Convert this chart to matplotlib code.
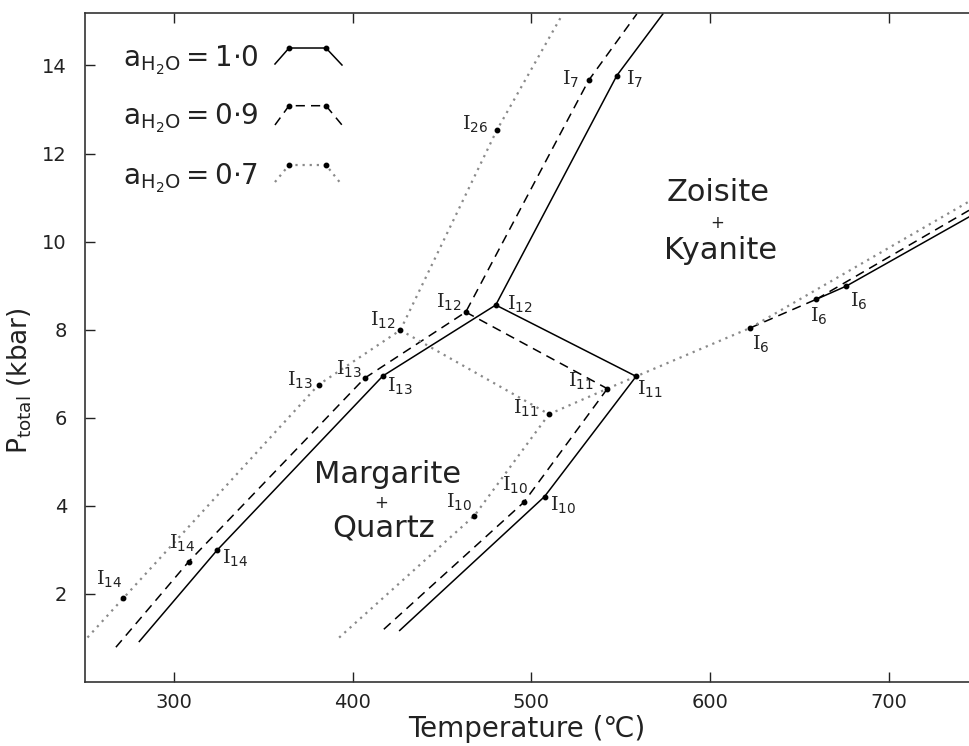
import matplotlib
matplotlib.use("Agg")
import matplotlib.pyplot as plt

plt.rcParams['font.family'] = ['DejaVu Sans']
plt.rcParams['mathtext.fontset'] = 'custom'
plt.rcParams['mathtext.rm'] = 'DejaVu Serif'
plt.rcParams['mathtext.sf'] = 'DejaVu Sans'
plt.rcParams['mathtext.it'] = 'DejaVu Sans:italic'

# ---------------- data (T in degC, P in kbar) ----------------
# a_H2O = 1.0 (solid)
a10_main_T = [280.4, 323.9, 416.8, 480.0, 547.8, 573.6]
a10_main_P = [0.92, 2.99, 6.95, 8.56, 13.77, 15.17]
a10_mid_T = [480.0, 558.6]
a10_mid_P = [8.56, 6.94]
a10_low_T = [558.6, 507.3, 426.2]
a10_low_P = [6.94, 4.21, 1.17]
a10_hi_T = [676.3, 745.0]
a10_hi_P = [8.99, 10.56]

# a_H2O = 0.9 (dashed)
a09_main_T = [267.3, 308.0, 406.6, 463.2, 532.0, 559.0]
a09_main_P = [0.79, 2.73, 6.90, 8.40, 13.66, 15.17]
a09_mid_T = [463.2, 542.5]
a09_mid_P = [8.40, 6.66]
a09_low_T = [542.5, 495.7, 415.5]
a09_low_P = [6.66, 4.08, 1.13]
a09_hi_T = [659.5, 745.0]
a09_hi_P = [8.69, 10.71]

# a_H2O = 0.7 (dotted)
a07_main_T = [251.4, 271.4, 380.8, 426.6, 480.6, 517.5]
a07_main_P = [1.01, 1.90, 6.75, 7.99, 12.53, 15.17]
a07_mid_T = [426.6, 509.8]
a07_mid_P = [7.99, 6.08]
a07_low_T = [509.8, 468.1, 390.7]
a07_low_P = [6.08, 3.78, 0.95]
a07_hi_T = [622.5, 745.0]
a07_hi_P = [8.04, 10.91]

# common (H2O-absent) curve through I11 and I6 points
common_dot_T = [509.8, 542.5, 558.6, 622.5]
common_dot_P = [6.08, 6.66, 6.94, 8.04]
common_dash_T = [622.5, 659.5]
common_dash_P = [8.04, 8.69]
common_solid_T = [659.5, 676.3]
common_solid_P = [8.69, 8.99]

# invariant points: subscript, T, P, label offset (px)
inv_sub = ['14', '14', '14', '13', '13', '13', '12', '12', '12',
           '11', '11', '11', '10', '10', '10', '6', '6', '6', '7', '7', '26']
inv_T = [323.9, 308.0, 271.4, 416.8, 406.6, 380.8, 480.0, 463.2, 426.6,
         558.6, 542.5, 509.8, 507.3, 495.7, 468.1, 676.3, 659.5, 622.5,
         547.8, 532.0, 480.6]
inv_P = [2.99, 2.73, 1.90, 6.95, 6.90, 6.75, 8.56, 8.40, 7.99,
         6.94, 6.66, 6.08, 4.21, 4.08, 3.78, 8.99, 8.69, 8.04,
         13.77, 13.66, 12.53]
inv_dx = [18, -6, -14, 17, -16, -19, 24, -17, -17,
          14, -26, -23, 19, -9, -15, 13, 3, 11, 18, -18, -22]
inv_dy = [-8, 18, 19, -10, 9, 4, 1, 10, 10,
          -13, 7, 6, -9, 17, 13, -15, -17, -16, -4, 1, 6]

legend_labels = ['1.0', '0.9', '0.7']
x_ticks = [300, 400, 500, 600, 700]
y_ticks = [2, 4, 6, 8, 10, 12, 14]

# ---------------- styles ----------------
solid = dict(color='black', lw=1.1, ls='-')
dashed = dict(color='black', lw=1.1, ls=(0, (6, 4)))
dotted = dict(color='#8a8a8a', lw=1.6, ls=(0, (1, 2.2)))

W, H = 969, 746
fig = plt.figure(figsize=(W / 100, H / 100), dpi=100)
ax = fig.add_axes([85 / W, (H - 682) / H, 884 / W, 669.4 / H])
ax.set_xlim(250, 745)
ax.set_ylim(0, 15.2)

for T, P in [(a10_main_T, a10_main_P), (a10_mid_T, a10_mid_P),
             (a10_low_T, a10_low_P), (a10_hi_T, a10_hi_P),
             (common_solid_T, common_solid_P)]:
    ax.plot(T, P, **solid)
for T, P in [(a09_main_T, a09_main_P), (a09_mid_T, a09_mid_P),
             (a09_low_T, a09_low_P), (a09_hi_T, a09_hi_P),
             (common_dash_T, common_dash_P)]:
    ax.plot(T, P, **dashed)
for T, P in [(a07_main_T, a07_main_P), (a07_mid_T, a07_mid_P),
             (a07_low_T, a07_low_P), (a07_hi_T, a07_hi_P),
             (common_dot_T, common_dot_P)]:
    ax.plot(T, P, **dotted)

ax.plot(inv_T, inv_P, 'o', color='black', ms=3.2, zorder=5)
for s, T, P, dx, dy in zip(inv_sub, inv_T, inv_P, inv_dx, inv_dy):
    ax.annotate(r'$\mathrm{I}_{\mathsf{%s}}$' % s, (T, P), xytext=(dx, dy),
                textcoords='offset pixels', ha='center', va='center',
                fontsize=14, color='#222222')

# region labels
ax.text(604.5, 11.12, 'Zoisite', ha='center', va='center', fontsize=22, color='#222222')
ax.text(603.8, 10.42, '+', ha='center', va='center', fontsize=12, color='#222222')
ax.text(606.0, 9.80, 'Kyanite', ha='center', va='center', fontsize=22, color='#222222')
ax.text(419.5, 4.72, 'Margarite', ha='center', va='center', fontsize=22, color='#222222')
ax.text(416.0, 4.06, '+', ha='center', va='center', fontsize=12, color='#222222')
ax.text(417.0, 3.50, 'Quartz', ha='center', va='center', fontsize=22, color='#222222')

# legend (drawn by hand, axes fraction coords)
leg_x = [0.2149, 0.2308, 0.2726, 0.2907]
leg_rows = [(0.9189, [0.9232, 0.9471, 0.9471, 0.9217], solid),
            (0.8321, [0.8321, 0.8609, 0.8609, 0.8321], dashed),
            (0.7424, [0.7469, 0.7723, 0.7723, 0.7424], dotted)]
for lab, (ty, ly, st) in zip(legend_labels, leg_rows):
    txt = lab.replace('.', r'{\cdot}')
    ax.text(0.043, ty, r'$\mathsf{a}_{\mathsf{H_2O}}=\mathsf{%s}$' % txt,
            transform=ax.transAxes, ha='left', va='baseline', fontsize=20,
            color='#222222')
    ax.plot(leg_x, ly, transform=ax.transAxes, **st)
    ax.plot(leg_x[1:3], ly[1:3], 'o', color='black', ms=3.2,
            transform=ax.transAxes)

ax.set_xticks(x_ticks)
ax.set_yticks(y_ticks)
ax.tick_params(direction='in', length=7, width=1, top=True, right=False,
               labelsize=14, colors='#222222')
ax.tick_params(axis='y', pad=13)
ax.tick_params(axis='x', pad=8)
ax.spines['right'].set_visible(False)
for sp in ['left', 'top', 'bottom']:
    ax.spines[sp].set_linewidth(1.2)
    ax.spines[sp].set_color('#333333')

ax.set_xlabel('Temperature (\u2103)', fontsize=20, color='#222222', labelpad=2)
ax.set_ylabel(r'P$_{\mathsf{total}}$ (kbar)', fontsize=19, color='#222222')
ax.yaxis.set_label_coords(-0.058, 0.45)

fig.savefig('out.png', dpi=100)
